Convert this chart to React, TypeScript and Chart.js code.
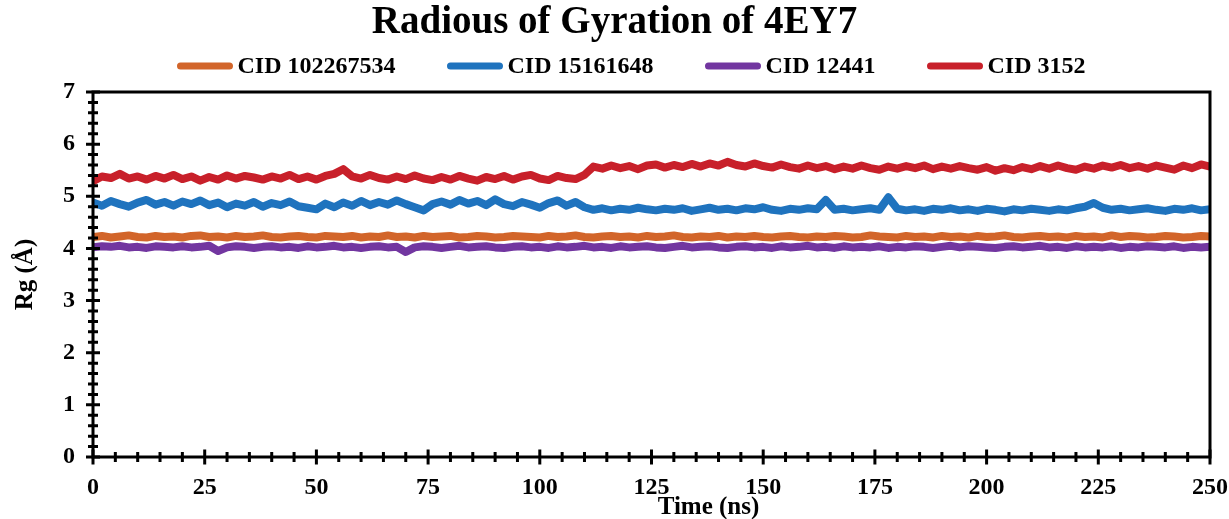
import React, { useEffect, useRef } from "react";
import { Chart, registerables } from "chart.js";

Chart.register(...registerables);

const FONT = '"Liberation Serif", "Times New Roman", Times, serif';

const chartTitle = "Radious of Gyration of 4EY7";
const xTitle = "Time (ns)";
const yTitle = "Rg (Å)";
const seriesNames = ["CID 102267534", "CID 15161648", "CID 12441", "CID 3152"];
const seriesColors = ["#D2652A", "#1F73BE", "#7236A0", "#C8202A"];

const timeNs = [
  0, 2, 4, 6, 8, 10, 12, 14, 16, 18, 20, 22, 24, 26, 28, 30, 32, 34, 36, 38,
  40, 42, 44, 46, 48, 50, 52, 54, 56, 58, 60, 62, 64, 66, 68, 70, 72, 74, 76, 78,
  80, 82, 84, 86, 88, 90, 92, 94, 96, 98, 100, 102, 104, 106, 108, 110, 112, 114, 116, 118,
  120, 122, 124, 126, 128, 130, 132, 134, 136, 138, 140, 142, 144, 146, 148, 150, 152, 154, 156, 158,
  160, 162, 164, 166, 168, 170, 172, 174, 176, 178, 180, 182, 184, 186, 188, 190, 192, 194, 196, 198,
  200, 202, 204, 206, 208, 210, 212, 214, 216, 218, 220, 222, 224, 226, 228, 230, 232, 234, 236, 238,
  240, 242, 244, 246, 248, 250,
];

const cid102267534 = [
  4.22, 4.24, 4.21, 4.23, 4.25, 4.22, 4.21, 4.24, 4.22, 4.23,
  4.21, 4.24, 4.25, 4.22, 4.23, 4.21, 4.24, 4.22, 4.23, 4.25,
  4.22, 4.21, 4.23, 4.24, 4.22, 4.21, 4.24, 4.23, 4.22, 4.24,
  4.21, 4.23, 4.22, 4.25, 4.22, 4.23, 4.21, 4.24, 4.22, 4.23,
  4.24, 4.21, 4.22, 4.24, 4.23, 4.21, 4.22, 4.24, 4.23, 4.22,
  4.21, 4.24, 4.22, 4.23, 4.25, 4.22, 4.21, 4.23, 4.24, 4.22,
  4.23, 4.21, 4.24, 4.22, 4.23, 4.25, 4.22, 4.21, 4.23, 4.22,
  4.24, 4.21, 4.23, 4.22, 4.24, 4.22, 4.21, 4.23, 4.24, 4.22,
  4.21, 4.23, 4.22, 4.24, 4.23, 4.21, 4.22, 4.25, 4.23, 4.22,
  4.21, 4.24, 4.22, 4.23, 4.21, 4.24, 4.22, 4.23, 4.21, 4.24,
  4.22, 4.23, 4.25, 4.22, 4.21, 4.23, 4.24, 4.22, 4.23, 4.21,
  4.24, 4.22, 4.23, 4.21, 4.25, 4.22, 4.24, 4.23, 4.21, 4.22,
  4.24, 4.23, 4.21, 4.22, 4.24, 4.23,
];

const cid15161648 = [
  4.88, 4.82, 4.91, 4.85, 4.80, 4.88, 4.93, 4.84, 4.89, 4.82,
  4.90, 4.85, 4.92, 4.83, 4.88, 4.79, 4.86, 4.82, 4.89, 4.80,
  4.87, 4.83, 4.90, 4.81, 4.78, 4.75, 4.86, 4.79, 4.88, 4.82,
  4.91, 4.83, 4.89, 4.84, 4.92, 4.85, 4.79, 4.73, 4.85, 4.90,
  4.84, 4.93, 4.86, 4.91, 4.83, 4.94, 4.85, 4.81, 4.89, 4.84,
  4.78, 4.87, 4.92, 4.82, 4.89, 4.79,
  4.74, 4.77, 4.73, 4.76, 4.74, 4.78, 4.75, 4.73, 4.76, 4.74,
  4.77, 4.72, 4.75, 4.78, 4.74, 4.76, 4.73, 4.77, 4.75, 4.79,
  4.74, 4.72, 4.76, 4.74, 4.77, 4.75, 4.93, 4.74, 4.76, 4.73,
  4.75, 4.77, 4.74, 4.98, 4.76, 4.73, 4.75, 4.72, 4.76, 4.74,
  4.77, 4.73, 4.75, 4.72, 4.76, 4.74, 4.71, 4.75, 4.73, 4.76,
  4.74, 4.72, 4.75, 4.73, 4.77, 4.80, 4.87, 4.78, 4.74, 4.76,
  4.73, 4.75, 4.77, 4.74, 4.72, 4.76, 4.74, 4.77, 4.73, 4.75,
];

const cid12441 = [
  4.02, 4.04, 4.03, 4.05, 4.02, 4.03, 4.01, 4.04, 4.03, 4.02,
  4.04, 4.02, 4.03, 4.05, 3.95, 4.02, 4.04, 4.03, 4.01, 4.03,
  4.04, 4.02, 4.03, 4.01, 4.04, 4.02, 4.03, 4.05, 4.02, 4.03,
  4.01, 4.03, 4.04, 4.02, 4.03, 3.93, 4.02, 4.04, 4.03, 4.01,
  4.03, 4.05, 4.02, 4.03, 4.04, 4.02, 4.01, 4.03, 4.04, 4.02,
  4.03, 4.01, 4.04, 4.02, 4.03, 4.05, 4.02, 4.03, 4.01, 4.04,
  4.02, 4.03, 4.04, 4.02, 4.01, 4.03, 4.05, 4.02, 4.03, 4.04,
  4.02, 4.01, 4.03, 4.04, 4.02, 4.03, 4.01, 4.04, 4.02, 4.03,
  4.05, 4.02, 4.03, 4.01, 4.04, 4.02, 4.03, 4.02, 4.04, 4.01,
  4.03, 4.02, 4.04, 4.03, 4.01, 4.03, 4.05, 4.02, 4.04, 4.03,
  4.02, 4.01, 4.03, 4.04, 4.02, 4.03, 4.05, 4.02, 4.03, 4.01,
  4.04, 4.02, 4.03, 4.02, 4.04, 4.01, 4.03, 4.02, 4.04, 4.03,
  4.02, 4.04, 4.01, 4.03, 4.02, 4.03,
];

const cid3152 = [
  5.29, 5.38, 5.35, 5.43, 5.34, 5.38, 5.32, 5.39, 5.34, 5.41,
  5.33, 5.38, 5.30, 5.37, 5.32, 5.40, 5.34, 5.39, 5.36, 5.32,
  5.38, 5.34, 5.41, 5.33, 5.38, 5.32, 5.39, 5.43, 5.52, 5.38,
  5.34, 5.41, 5.35, 5.32, 5.38, 5.33, 5.40, 5.34, 5.31, 5.37,
  5.32, 5.39, 5.34, 5.30, 5.37, 5.33, 5.39, 5.32, 5.38, 5.41,
  5.34, 5.31, 5.39, 5.35, 5.33, 5.41,
  5.57, 5.53, 5.59, 5.54, 5.58, 5.52, 5.59, 5.61, 5.55, 5.60,
  5.56, 5.62, 5.57, 5.63, 5.59, 5.66, 5.60, 5.57, 5.63, 5.58,
  5.55, 5.61, 5.56, 5.53, 5.59, 5.54, 5.58, 5.52, 5.57, 5.53,
  5.59, 5.54, 5.51, 5.57, 5.53, 5.58, 5.54, 5.59, 5.52, 5.57,
  5.53, 5.58, 5.54, 5.51, 5.56, 5.49, 5.54, 5.50, 5.56, 5.52,
  5.58, 5.53, 5.59, 5.54, 5.51, 5.57, 5.53, 5.59, 5.55, 5.60,
  5.54, 5.58, 5.53, 5.59, 5.55, 5.51, 5.59, 5.54, 5.61, 5.57,
];

const seriesValues = [cid102267534, cid15161648, cid12441, cid3152];

const X_MIN = 0, X_MAX = 250, X_MAJOR = 25, X_MINOR_DIV = 5;
const Y_MIN = 0, Y_MAX = 7, Y_MAJOR = 1, Y_MINOR_DIV = 5;

export default function App() {
  const ref = useRef<HTMLCanvasElement>(null);

  useEffect(() => {
    if (!ref.current) return;

    const axesPlugin = {
      id: "axesBox",
      afterDraw(chart: any) {
        const { ctx, chartArea: a, scales } = chart;
        const xs = scales.x, ys = scales.y;
        ctx.save();
        ctx.strokeStyle = "#000";
        ctx.lineWidth = 3;
        ctx.strokeRect(a.left, a.top, a.right - a.left, a.bottom - a.top);
        ctx.beginPath();
        const nx = ((X_MAX - X_MIN) / X_MAJOR) * X_MINOR_DIV;
        for (let i = 0; i <= nx; i++) {
          const v = X_MIN + (i * X_MAJOR) / X_MINOR_DIV;
          const p = xs.getPixelForValue(v);
          const len = i % X_MINOR_DIV === 0 ? 7.5 : 5;
          ctx.moveTo(p, a.bottom - len);
          ctx.lineTo(p, a.bottom + len);
        }
        const ny = ((Y_MAX - Y_MIN) / Y_MAJOR) * Y_MINOR_DIV;
        for (let i = 0; i <= ny; i++) {
          const v = Y_MIN + (i * Y_MAJOR) / Y_MINOR_DIV;
          const p = ys.getPixelForValue(v);
          const len = i % Y_MINOR_DIV === 0 ? 7 : 5;
          ctx.moveTo(a.left - len, p);
          ctx.lineTo(a.left + len, p);
        }
        ctx.stroke();
        // x-axis title (offset to the right, as in the reference)
        ctx.fillStyle = "#000";
        ctx.font = `bold 25px ${FONT}`;
        ctx.textAlign = "center";
        ctx.textBaseline = "middle";
        ctx.fillText(xTitle, (a.left + a.right) / 2 + 57, 508);
        ctx.restore();
      },
    };

    const legendPlugin = {
      id: "lineLegend",
      afterDraw(chart: any) {
        const { ctx, width } = chart;
        const ds = chart.data.datasets;
        ctx.save();
        ctx.font = `bold 24px ${FONT}`;
        ctx.textBaseline = "middle";
        ctx.textAlign = "left";
        const sample = 55, gapText = 5, gapItem = 52;
        const widths = ds.map((d: any) => sample + gapText + ctx.measureText(d.label).width);
        const total = widths.reduce((s: number, w: number) => s + w, 0) + gapItem * (ds.length - 1);
        let x = (width - total) / 2 + 17;
        const y = 67;
        ds.forEach((d: any, i: number) => {
          ctx.strokeStyle = d.borderColor;
          ctx.lineWidth = 7;
          ctx.lineCap = "round";
          ctx.beginPath();
          ctx.moveTo(x + 3, y - 1);
          ctx.lineTo(x + sample - 3, y - 1);
          ctx.stroke();
          ctx.fillStyle = "#000";
          ctx.fillText(d.label, x + sample + gapText, y);
          x += widths[i] + gapItem;
        });
        ctx.restore();
      },
    };

    const chart = new Chart(ref.current, {
      type: "line",
      data: {
        labels: timeNs,
        datasets: seriesNames.map((name, i) => ({
          label: name,
          data: seriesValues[i],
          borderColor: seriesColors[i],
          backgroundColor: seriesColors[i],
          borderWidth: 8,
          pointRadius: 0,
          tension: 0,
          borderJoinStyle: "round" as const,
          borderCapStyle: "round" as const,
        })),
      },
      options: {
        animation: false,
        responsive: false,
        layout: { padding: { left: 0, right: 0, top: 0, bottom: 0 } },
        plugins: {
          legend: { display: false },
          tooltip: { enabled: false },
          title: {
            display: true,
            text: chartTitle,
            color: "#000",
            font: { family: FONT, size: 39, weight: "bold" },
            padding: { top: 0, bottom: 45.2 },
          },
        },
        scales: {
          x: {
            type: "linear",
            min: X_MIN,
            max: X_MAX,
            grid: { display: false, drawTicks: false },
            border: { display: false },
            afterFit: (s: any) => {
              s.height = 62;
              s.paddingLeft = 0;
              s.paddingRight = 19;
            },
            ticks: {
              stepSize: X_MAJOR,
              color: "#000",
              padding: 16,
              maxRotation: 0,
              autoSkip: false,
              font: { family: FONT, size: 24, weight: "bold" },
            },
            title: { display: false, text: xTitle },
          },
          y: {
            min: Y_MIN,
            max: Y_MAX,
            grid: { display: false, drawTicks: false },
            border: { display: false },
            afterFit: (s: any) => { s.width = 93; },
            ticks: {
              stepSize: Y_MAJOR,
              color: "#000",
              padding: 18,
              font: { family: FONT, size: 24, weight: "bold" },
            },
            title: {
              display: true,
              text: yTitle,
              color: "#000",
              padding: { top: 11, bottom: 0 },
              font: { family: FONT, size: 25, weight: "bold" },
            },
          },
        },
      },
      plugins: [axesPlugin, legendPlugin],
    });

    return () => chart.destroy();
  }, []);

  return (
    <div style={{ position: "fixed", left: 0, top: 0, width: 1229, height: 519, background: "#fff" }}>
      <canvas ref={ref} width={1229} height={519} style={{ display: "block" }} />
    </div>
  );
}
